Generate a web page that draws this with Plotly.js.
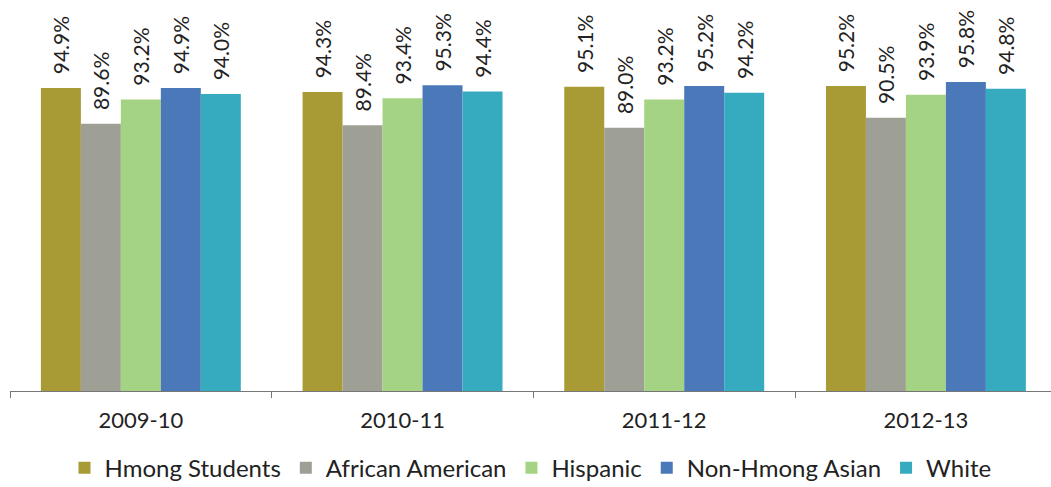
<!DOCTYPE html>
<html>
<head>
<meta charset="utf-8">
<script src="https://cdn.plot.ly/plotly-3.0.1.min.js"></script>
<style>html,body{margin:0;padding:0;background:#fff;}#chart{width:1051px;height:487px;}</style>
</head>
<body>
<div id="chart"></div>
<script>
const years = ["2009-10", "2010-11", "2011-12", "2012-13"];
const seriesNames = ["Hmong Students", "African American", "Hispanic", "Non-Hmong Asian", "White"];
const hmong = [94.9, 94.3, 95.1, 95.2];
const africanAmerican = [89.6, 89.4, 89.0, 90.5];
const hispanic = [93.2, 93.4, 93.2, 93.9];
const nonHmongAsian = [94.9, 95.3, 95.2, 95.8];
const white = [94.0, 94.4, 94.2, 94.8];
const colors = ["#A89A35", "#9EA096", "#A5D384", "#4A78B8", "#36ABC0"];

const allValues = [hmong, africanAmerican, hispanic, nonHmongAsian, white];
const font = "Lato, 'Open Sans', sans-serif";

const traces = allValues.map((vals, i) => ({
  type: "bar",
  name: seriesNames[i],
  x: years,
  y: vals,
  marker: {color: colors[i]},
  text: vals.map(v => "\u00a0\u00a0" + v.toFixed(1) + "%"),
  textposition: "outside",
  textangle: -90,
  constraintext: "none",
  textfont: {family: font, size: 21, color: "#222"},
  cliponaxis: false,
  hoverinfo: "skip"
}));

const layout = {
  width: 1051, height: 487,
  margin: {l: 10, r: 0, t: 0, b: 96, autoexpand: false},
  paper_bgcolor: "#fff", plot_bgcolor: "#fff",
  barmode: "group",
  bargap: 0.236,
  bargroupgap: 0,
  showlegend: true,
  legend: {
    orientation: "h", x: 0.5, xanchor: "center", y: -0.14, yanchor: "top",
    font: {family: font, size: 24, color: "#222"},
    itemwidth: 30, traceorder: "normal"
  },
  xaxis: {
    type: "category",
    range: [-0.5, 3.478],
    showline: true, linecolor: "#777", linewidth: 1,
    ticks: "outside", tickson: "boundaries", ticklen: 6, tickcolor: "#777",
    ticklabelstandoff: 10,
    tickfont: {family: font, size: 22, color: "#222"},
    showgrid: false, zeroline: false,
    automargin: false
  },
  yaxis: {
    range: [50, 107.95],
    visible: false, showgrid: false, zeroline: false, fixedrange: true
  },
  font: {family: font}
};

Plotly.newPlot("chart", traces, layout, {displayModeBar: false, staticPlot: true});
</script>
</body>
</html>
